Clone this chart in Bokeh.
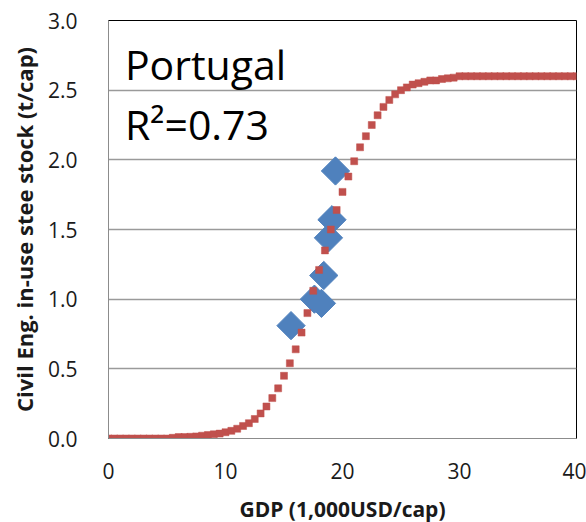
from bokeh.plotting import figure
from bokeh.models import Range1d, Label, SingleIntervalTicker, CustomJSTickFormatter
from bokeh.embed import file_html
from bokeh.resources import INLINE
import math

# Fitted curve
fit_gdp = [0.0, 0.5, 1.0, 1.5, 2.0, 2.5, 3.0, 3.5, 4.0, 4.5, 5.0, 5.5, 6.0, 6.5, 7.0, 7.5,
           8.0, 8.5, 9.0, 9.5, 10.0, 10.5, 11.0, 11.5, 12.0, 12.5, 13.0, 13.5, 14.0, 14.5,
           15.0, 15.5, 16.0, 16.5, 17.0, 17.5, 18.0, 18.5, 19.0, 19.5, 20.0, 20.5, 21.0,
           21.5, 22.0, 22.5, 23.0, 23.5, 24.0, 24.5, 25.0, 25.5, 26.0, 26.5, 27.0, 27.5,
           28.0, 28.5, 29.0, 29.5, 30.0, 30.5, 31.0, 31.5, 32.0, 32.5, 33.0, 33.5, 34.0,
           34.5, 35.0, 35.5, 36.0, 36.5, 37.0, 37.5, 38.0, 38.5, 39.0, 39.5, 40.0]
fit_stock = [0.00, 0.00, 0.00, 0.00, 0.00, 0.00, 0.00, 0.00, 0.00, 0.00, 0.00, 0.005, 0.01,
             0.01, 0.012, 0.015, 0.02, 0.025, 0.03, 0.035, 0.045, 0.055, 0.07, 0.09, 0.11,
             0.14, 0.18, 0.23, 0.29, 0.36, 0.45, 0.54, 0.64, 0.76, 0.90, 1.06, 1.21, 1.35,
             1.50, 1.64, 1.77, 1.88, 1.99, 2.09, 2.17, 2.25, 2.32, 2.38, 2.43, 2.47, 2.50,
             2.52, 2.54, 2.55, 2.56, 2.57, 2.57, 2.58, 2.585, 2.59, 2.60, 2.60, 2.60, 2.60,
             2.60, 2.60, 2.60, 2.60, 2.60, 2.60, 2.60, 2.60, 2.60, 2.60, 2.60, 2.60, 2.60,
             2.60, 2.60, 2.60, 2.60]

# Observed data for Portugal
obs_gdp = [15.6, 17.6, 18.2, 18.4, 18.8, 19.1, 19.4]
obs_stock = [0.81, 1.00, 0.97, 1.17, 1.44, 1.57, 1.92]

country = "Portugal"
r2_text = "R\u00b2=0.73"
x_title = "GDP (1,000USD/cap)"
y_title = "Civil Eng. in-use stee stock (t/cap)"

FONT = "Open Sans"

p = figure(width=586, height=522, output_backend="svg", toolbar_location=None,
           x_range=Range1d(0, 40), y_range=Range1d(0, 3.0),
           frame_width=468, frame_height=418,
           min_border_left=108, min_border_right=10, min_border_top=20, min_border_bottom=84)

p.outline_line_color = "black"
p.outline_line_width = 1
p.background_fill_color = "white"
p.border_fill_color = "white"

p.xgrid.grid_line_color = None
p.ygrid.grid_line_color = "#9a9a9a"
p.ygrid.grid_line_width = 1.5

p.xaxis.ticker = SingleIntervalTicker(interval=10)
p.yaxis.ticker = SingleIntervalTicker(interval=0.5)
p.yaxis.formatter = CustomJSTickFormatter(code="return tick.toFixed(1);")

for ax in (p.xaxis[0], p.yaxis[0]):
    ax.axis_line_color = "#8c8c8c"
    ax.axis_line_width = 1
    ax.major_tick_line_color = None
    ax.minor_tick_line_color = None
    ax.major_tick_out = 0
    ax.major_tick_in = 0
    ax.minor_tick_out = 0
    ax.major_label_text_font = FONT
    ax.major_label_text_font_size = "21px"
    ax.major_label_text_color = "#1a1a1a"
    ax.axis_label_text_font = FONT
    ax.axis_label_text_font_style = "bold"
    ax.axis_label_text_color = "#1a1a1a"

p.xaxis.axis_label = x_title
p.yaxis.axis_label = y_title
p.xaxis.axis_label_text_font_size = "21px"
p.yaxis.axis_label_text_font_size = "22px"
p.xaxis.major_label_standoff = 24
p.yaxis.major_label_standoff = 31
p.xaxis.axis_label_standoff = 13
p.yaxis.axis_label_standoff = 6

# observed diamonds (under the fitted dots)
p.scatter(obs_gdp, obs_stock, marker="square", size=20, angle=math.pi / 4,
          fill_color="#4F81BD", line_color="#4F81BD", line_width=1)

# fitted curve dots
p.scatter(fit_gdp, fit_stock, marker="square", size=7,
          fill_color="#C0504D", line_color="#C0504D", line_width=0.5)

p.add_layout(Label(x=1.4, y=2.685, text=country, text_font=FONT, text_font_size="41px",
                   text_color="black", text_baseline="alphabetic"))
p.add_layout(Label(x=1.4, y=2.26, text=r2_text, text_font=FONT, text_font_size="41px",
                   text_color="black", text_baseline="alphabetic"))

open("out.html", "w").write(file_html(p, INLINE))
